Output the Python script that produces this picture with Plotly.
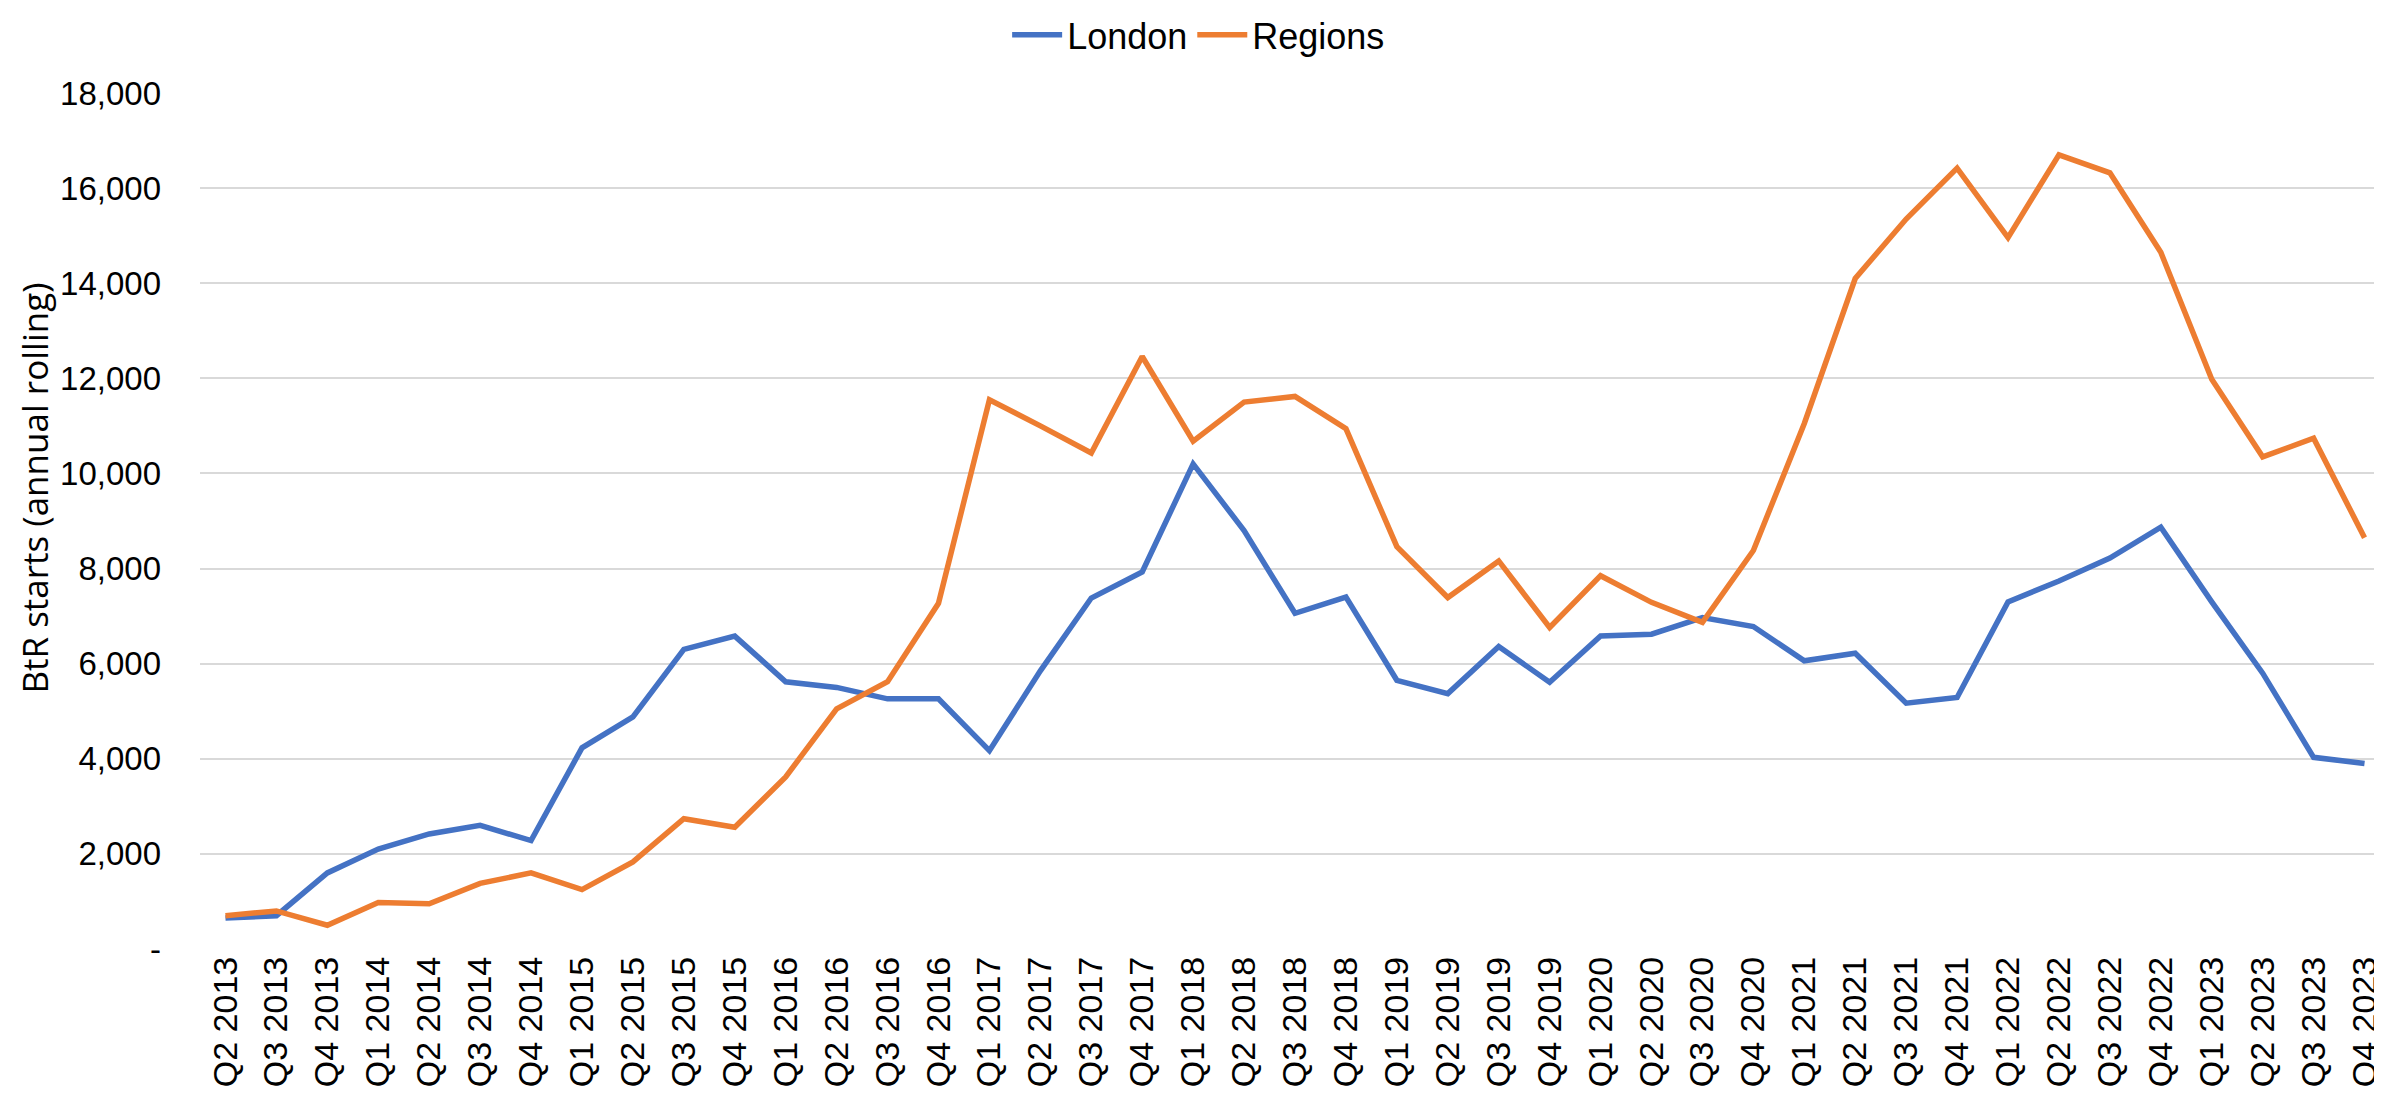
import plotly.graph_objects as go

# quarters from Q2 2013 to Q4 2023
quarters = [
    "Q2 2013", "Q3 2013", "Q4 2013",
    "Q1 2014", "Q2 2014", "Q3 2014", "Q4 2014",
    "Q1 2015", "Q2 2015", "Q3 2015", "Q4 2015",
    "Q1 2016", "Q2 2016", "Q3 2016", "Q4 2016",
    "Q1 2017", "Q2 2017", "Q3 2017", "Q4 2017",
    "Q1 2018", "Q2 2018", "Q3 2018", "Q4 2018",
    "Q1 2019", "Q2 2019", "Q3 2019", "Q4 2019",
    "Q1 2020", "Q2 2020", "Q3 2020", "Q4 2020",
    "Q1 2021", "Q2 2021", "Q3 2021", "Q4 2021",
    "Q1 2022", "Q2 2022", "Q3 2022", "Q4 2022",
    "Q1 2023", "Q2 2023", "Q3 2023", "Q4 2023",
]

london = [
    650, 700, 1600,
    2100, 2420, 2600, 2280,
    4230, 4880, 6300, 6580,
    5620, 5500, 5260, 5260,
    4170, 5850, 7380, 7930,
    10200, 8800, 7060, 7400,
    5650, 5370, 6360, 5610,
    6580, 6620, 6970, 6780,
    6060, 6220, 5170, 5290,
    7300, 7740, 8220, 8870,
    7300, 5800, 4030, 3900,
]

regions = [
    700, 800, 500,
    980, 950, 1380, 1600,
    1250, 1830, 2740, 2560,
    3620, 5050, 5620, 7270,
    11550, 11000, 10430, 12460,
    10680, 11500, 11620, 10940,
    8460, 7390, 8160, 6760,
    7850, 7290, 6870, 8380,
    11050, 14100, 15350, 16420,
    14960, 16700, 16320, 14650,
    11980, 10350, 10740, 8650,
]

y_ticks = [0, 2000, 4000, 6000, 8000, 10000, 12000, 14000, 16000, 18000]
y_labels = ["-", "2,000", "4,000", "6,000", "8,000", "10,000", "12,000", "14,000", "16,000", "18,000"]

fig = go.Figure()
fig.add_trace(go.Scatter(x=quarters, y=london, name="London", mode="lines",
                         line=dict(color="#4472C4", width=5.5)))
fig.add_trace(go.Scatter(x=quarters, y=regions, name="Regions", mode="lines",
                         line=dict(color="#ED7D31", width=5.5)))

fig.update_layout(
    width=2382, height=1095,
    margin=dict(l=192, r=0, t=85, b=154, autoexpand=False),
    paper_bgcolor="white", plot_bgcolor="white",
    showlegend=True,
    legend=dict(orientation="h", x=0.456, xanchor="center", y=1.068, yanchor="middle",
                font=dict(family="Liberation Sans, Arial, sans-serif", size=36, color="black"),
                itemwidth=50, tracegroupgap=0),
    annotations=[dict(
        text="BtR starts (annual rolling)", textangle=-90,
        xref="paper", yref="paper", x=-0.0755, y=0.5386,
        xanchor="center", yanchor="middle", showarrow=False,
        font=dict(family="Open Sans, sans-serif", size=35, color="black"),
    )],
)

fig.update_xaxes(
    type="category", range=[-0.5, 42.5],
    tickangle=-90, tickfont=dict(family="Liberation Sans, Arial", size=34, color="black"),
    showgrid=False, showline=False, zeroline=False, ticks="",
)

fig.update_yaxes(
    range=[0, 18000], tickvals=y_ticks, ticktext=y_labels,
    tickfont=dict(family="Liberation Sans, Arial, sans-serif", size=33, color="black"),
    showgrid=True, gridcolor="#D9D9D9", gridwidth=2,
    zeroline=False, showline=False, ticks="", ticklabelstandoff=38,
)

fig.write_html("out.html")
